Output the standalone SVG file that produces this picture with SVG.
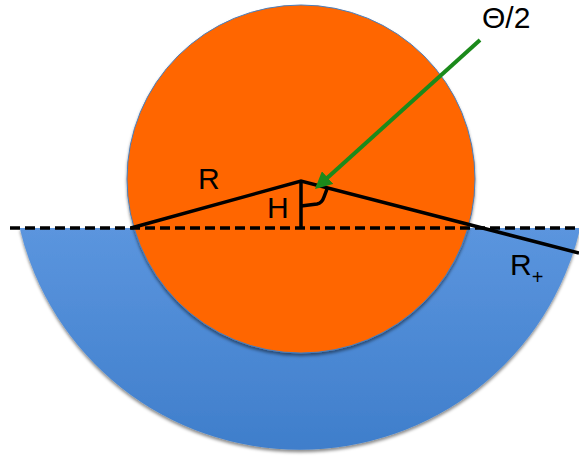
<svg xmlns="http://www.w3.org/2000/svg" width="579" height="464" viewBox="0 0 579 464">
<style>
.lbl{font-family:"Liberation Sans",Arial,sans-serif;fill:#000}
.ln{stroke:#000;stroke-width:3.5;fill:none;stroke-linecap:butt}
</style>
<defs>
<linearGradient id="bg" x1="0" y1="0" x2="0" y2="1">
<stop offset="0" stop-color="#5b95de"/>
<stop offset="1" stop-color="#3f7ecb"/>
</linearGradient>
<filter id="sh" x="-10%" y="-10%" width="120%" height="125%">
<feDropShadow dx="0" dy="2.5" stdDeviation="1.8" flood-color="#000" flood-opacity="0.45"/>
</filter>
<marker id="ga" viewBox="0 0 10 10" refX="8" refY="5" markerWidth="17" markerHeight="17" markerUnits="userSpaceOnUse" orient="auto">
<path d="M0,0 L10,5 L0,10 z" fill="#1b8a1b"/>
</marker>
</defs>
<rect width="579" height="464" fill="#fff"/>
<g id="outer-region">
<path d="M19.7,228 A288,288 0 0 0 580.3,228 Z" fill="url(#bg)" filter="url(#sh)"/>
</g>
<g id="inner-circle">
<circle cx="301" cy="179" r="174" fill="#ff6600" stroke="#4a7ebb" stroke-width="1" filter="url(#sh)"/>
</g>
<g id="connectors">
<line class="ln" x1="10" y1="228" x2="579" y2="228" stroke-width="4" stroke-dasharray="10 5"/>
<polyline class="ln" points="131,228 301,181 579,253"/>
<line class="ln" x1="301" y1="181" x2="301" y2="228"/>
<path class="ln" d="M301,206 L317,204 Q322,203 324,197 L327,189"/>
<line x1="480" y1="40" x2="317.5" y2="186.7" stroke="#1b8a1b" stroke-width="4" marker-end="url(#ga)"/>
</g>
<g id="labels">
<text class="lbl" x="198" y="189" font-size="30">R</text>
<text class="lbl" x="267" y="218" font-size="30">H</text>
<text class="lbl" x="510" y="275" font-size="30">R<tspan font-size="20" dy="9">+</tspan></text>
<text class="lbl" x="482" y="28" font-size="30">Θ/2</text>
</g>
</svg>
